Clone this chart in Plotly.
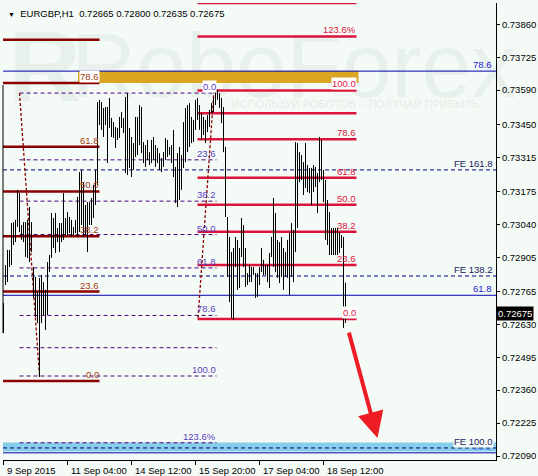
import plotly.graph_objects as go

# EURGBP H1, bar 0 = 9 Sep 2015 20:00 (highs / lows)
highs = [0.72717, 0.72873, 0.72935, 0.72935, 0.73045, 0.73049, 0.73058, 0.73181, 0.73168, 0.73037,
         0.73049, 0.73049, 0.73058, 0.73111, 0.73049, 0.72865, 0.72824, 0.72762, 0.72820, 0.72832,
         0.72803, 0.72771, 0.72885, 0.72914, 0.73086, 0.73066, 0.73086, 0.73025, 0.73045, 0.73045,
         0.73168, 0.73066, 0.73090, 0.73070, 0.73058, 0.73029, 0.73058, 0.73152, 0.73254, 0.73263,
         0.73213, 0.73119, 0.73131, 0.73131, 0.73148, 0.73201, 0.73263, 0.73541, 0.73550, 0.73541,
         0.73517, 0.73521, 0.73521, 0.73558, 0.73476, 0.73459, 0.73439, 0.73435, 0.73480, 0.73500,
         0.73476, 0.73562, 0.73578, 0.73435, 0.73398, 0.73373, 0.73480, 0.73480, 0.73529, 0.73521,
         0.73377, 0.73365, 0.73386, 0.73336, 0.73386, 0.73398, 0.73365, 0.73353, 0.73332, 0.73312,
         0.73336, 0.73394, 0.73386, 0.73357, 0.73365, 0.73427, 0.73275, 0.73332, 0.73357, 0.73324,
         0.73459, 0.73517, 0.73529, 0.73537, 0.73480, 0.73468, 0.73550, 0.73558, 0.73529, 0.73496,
         0.73480, 0.73468, 0.73488, 0.73509, 0.73537, 0.73558, 0.73582, 0.73591, 0.73578, 0.73558,
         0.73521, 0.73357, 0.73070, 0.72988, 0.72926, 0.72943, 0.72988, 0.72976, 0.72943, 0.73066,
         0.73037, 0.72943, 0.72840, 0.72873, 0.72865, 0.72865, 0.72840, 0.72840, 0.72865, 0.72943,
         0.72894, 0.72873, 0.72873, 0.72922, 0.72988, 0.73148, 0.73086, 0.72976, 0.72967, 0.72988,
         0.72943, 0.72926, 0.72976, 0.73004, 0.73045, 0.73017, 0.73377, 0.73373, 0.73336, 0.73324,
         0.73295, 0.73373, 0.73283, 0.73271, 0.73271, 0.73283, 0.73275, 0.73250, 0.73398, 0.73386,
         0.73263, 0.73222, 0.73140, 0.73090, 0.73025, 0.73025, 0.73025, 0.73025, 0.73008, 0.72996,
         0.72988, 0.72800]
lows = [0.72594, 0.72791, 0.72803, 0.72865, 0.72873, 0.72955, 0.72967, 0.73029, 0.73008, 0.72976,
        0.72967, 0.72906, 0.72902, 0.72885, 0.72926, 0.72738, 0.72660, 0.72635, 0.72414, 0.72635,
        0.72668, 0.72607, 0.72668, 0.72844, 0.72902, 0.72943, 0.72922, 0.72967, 0.72926, 0.72967,
        0.72976, 0.72996, 0.72996, 0.73004, 0.72988, 0.72996, 0.73004, 0.72988, 0.73008, 0.73037,
        0.72988, 0.72996, 0.72926, 0.73037, 0.73037, 0.73066, 0.73119, 0.73201, 0.73447, 0.73427,
        0.73398, 0.73447, 0.73291, 0.73435, 0.73398, 0.73394, 0.73353, 0.73386, 0.73394, 0.73435,
        0.73414, 0.73250, 0.73242, 0.73271, 0.73234, 0.73263, 0.73316, 0.73324, 0.73365, 0.73332,
        0.73291, 0.73275, 0.73304, 0.73283, 0.73291, 0.73304, 0.73275, 0.73291, 0.73263, 0.73254,
        0.73275, 0.73304, 0.73316, 0.73324, 0.73291, 0.73234, 0.73127, 0.73111, 0.73140, 0.73181,
        0.73271, 0.73295, 0.73336, 0.73357, 0.73373, 0.73377, 0.73427, 0.73468, 0.73427, 0.73386,
        0.73406, 0.73373, 0.73418, 0.73439, 0.73496, 0.73500, 0.73529, 0.73550, 0.73517, 0.73455,
        0.73336, 0.73070, 0.72824, 0.72721, 0.72656, 0.72648, 0.72865, 0.72771, 0.72779, 0.72906,
        0.72865, 0.72783, 0.72791, 0.72803, 0.72803, 0.72832, 0.72738, 0.72742, 0.72791, 0.72844,
        0.72832, 0.72832, 0.72803, 0.72779, 0.72906, 0.72865, 0.72844, 0.72820, 0.72799, 0.72824,
        0.72771, 0.72824, 0.72820, 0.72750, 0.72824, 0.72803, 0.72926, 0.73025, 0.73213, 0.73222,
        0.73160, 0.73189, 0.73172, 0.73168, 0.73119, 0.73172, 0.73193, 0.73086, 0.73213, 0.73222,
        0.73131, 0.72976, 0.72955, 0.72914, 0.72914, 0.72914, 0.72914, 0.72914, 0.72922, 0.72943,
        0.72615, 0.72635]

last_ohlc = [0.72665, 0.72800, 0.72635, 0.72675]

tick_bars = [0, 32, 64, 96, 128, 160]
tick_text = ["9 Sep 2015", "11 Sep 04:00", "14 Sep 12:00", "15 Sep 20:00", "17 Sep 04:00", "18 Sep 12:00"]
price_ticks = [0.73860, 0.73725, 0.73590, 0.73450, 0.73315, 0.73175, 0.73040,
               0.72905, 0.72765, 0.72630, 0.72495, 0.72360, 0.72225, 0.72090]

# fibonacci retracements
left_levels = [0, 23.6, 38.2, 50, 61.8, 78.6, 90, 100]
left_labels = ["0.0", "23.6", "38.2", "50.0", "61.8", "78.6", "", ""]
left_p0, left_p100, left_bars = 0.72397, 0.73952, (-2, 48)

mid_levels = [0, 23.6, 38.2, 50, 61.8, 78.6, 90, 100, 123.6]
mid_labels = ["0.0", "23.6", "38.2", "50.0", "61.8", "78.6", "", "100.0", "123.6%"]
mid_p0, mid_p100, mid_bars = 0.73578, 0.72418, (8, 106.5)

right_levels = [0, 23.6, 38.2, 50, 61.8, 78.6, 90, 100, 123.6, 138.2]
right_labels = ["0.0", "23.6", "38.2", "50.0", "61.8", "78.6", "", "100.0", "123.6%", ""]
right_p0, right_p100, right_bars = 0.72652, 0.73589, (97, 176.5)

# fibo expansion and other horizontal lines
fe_prices = [0.72123, 0.72828, 0.73263]
fe_labels = ["FE 100.0", "FE 138.2", "FE 161.8"]
blue_prices = [0.73668, 0.72749, 0.72103]
blue_labels = ["78.6", "61.8", "38.2"]
gold_zone = [0.73619, 0.73668]
gold_bars = (37.25, 177.5)
sky_zone = [0.72108, 0.72145]

diag1_bars, diag1_prices = [8, 18], [0.73578, 0.72418]
diag2_bars, diag2_prices = [105.25, 97.25], [0.73589, 0.72652]

arrow_from = (172.5, 0.72602)
arrow_to = (187, 0.72164)

X_RANGE = [-0.25, 246.25]
Y_RANGE = [0.720736, 0.739473]

BG = "#F4FBF6"
MAROON, MAROON_TXT = "#8B0000", "#A33A12"
RED = "#DC143C"
PURPLE, PURPLE_TXT = "#4B0082", "#5B3CC4"
NAVY = "#000080"
BLUE, BLUE_TXT = "#0000B0", "#1818D0"
FONT = "Liberation Sans"
WM = "rgba(150,168,160,0.12)"


def fib_prices(p0, p100, levels):
    return [p0 + (p100 - p0) * lv / 100.0 for lv in levels]


def hlines(prices, x0, x1):
    xs, ys = [], []
    for p in prices:
        xs += [x0, x1, None]
        ys += [p, p, None]
    return xs, ys


fig = go.Figure()

# watermark
fig.add_shape(type="rect", xref="paper", yref="paper", x0=0.19, x1=0.99, y0=0.80, y1=0.965,
              layer="below", line=dict(width=0), fillcolor="rgba(0,0,0,0)",
              label=dict(text="RoboForex", font=dict(family=FONT, size=90, color=WM)))
fig.add_shape(type="rect", xref="paper", yref="paper", x0=0.0, x1=0.17, y0=0.80, y1=0.965,
              layer="below", line=dict(width=0), fillcolor="rgba(0,0,0,0)",
              label=dict(text="<b>R</b>", font=dict(family=FONT, size=100, color=WM)))
fig.add_shape(type="rect", xref="paper", yref="paper", x0=0.44, x1=0.99, y0=0.768, y1=0.795,
              layer="below", line=dict(width=0), fillcolor="rgba(0,0,0,0)",
              label=dict(text="ИСПОЛЬЗУЙ РОБОТОВ – ПОЛУЧАЙ ПРИБЫЛЬ",
                         font=dict(family=FONT, size=11, color="rgba(150,168,160,0.2)")))

# zones
fig.add_shape(type="rect", xref="x", yref="y", x0=gold_bars[0], x1=gold_bars[1],
              y0=gold_zone[0], y1=gold_zone[1], layer="below", line=dict(width=0), fillcolor="#DAA520")
fig.add_shape(type="rect", xref="paper", yref="y", x0=0, x1=1,
              y0=sky_zone[0], y1=sky_zone[1], layer="below", line=dict(width=0), fillcolor="#87CEEB")

# left edge line
fig.add_shape(type="line", xref="paper", yref="y", x0=0, x1=0, y0=0.72594, y1=0.73611,
              line=dict(color="black", width=1))

# FE dashed lines
xs, ys = hlines(fe_prices, X_RANGE[0], X_RANGE[1])
fig.add_trace(go.Scatter(x=xs, y=ys, mode="lines", line=dict(color=NAVY, width=1, dash="4px,3px"),
                         hoverinfo="skip"))
# blue solid lines
xs, ys = hlines(blue_prices, X_RANGE[0], X_RANGE[1])
fig.add_trace(go.Scatter(x=xs, y=ys, mode="lines", line=dict(color=BLUE, width=1), hoverinfo="skip"))

# middle fib (dashed purple)
mid_p = fib_prices(mid_p0, mid_p100, mid_levels)
xs, ys = hlines(mid_p, *mid_bars)
fig.add_trace(go.Scatter(x=xs, y=ys, mode="lines", line=dict(color=PURPLE, width=1, dash="4px,3px"),
                         hoverinfo="skip"))
# left fib (maroon)
left_p = fib_prices(left_p0, left_p100, left_levels)
xs, ys = hlines(left_p, *left_bars)
fig.add_trace(go.Scatter(x=xs, y=ys, mode="lines", line=dict(color=MAROON, width=2.5), hoverinfo="skip"))
# right fib (crimson)
right_p = fib_prices(right_p0, right_p100, right_levels)
xs, ys = hlines(right_p, *right_bars)
fig.add_trace(go.Scatter(x=xs, y=ys, mode="lines", line=dict(color=RED, width=2.5), hoverinfo="skip"))

# fib trend lines
for bx, py in [(diag1_bars, diag1_prices), (diag2_bars, diag2_prices)]:
    fig.add_trace(go.Scatter(x=bx, y=py, mode="lines", line=dict(color=MAROON, width=1.3, dash="3px,2px"),
                             hoverinfo="skip"))

# bars
bx, by = [], []
for i, (h, l) in enumerate(zip(highs, lows)):
    bx += [i, i, None]
    by += [l, h, None]
fig.add_trace(go.Scatter(x=bx, y=by, mode="lines", line=dict(color="black", width=1), hoverinfo="skip"))

ann = []


def lab(x, y, text, color, xref="x", xanchor="right", bg=None, xshift=0, yshift=0):
    ann.append(dict(x=x, y=y, xref=xref, yref="y", text=text, showarrow=False, xanchor=xanchor,
                    yanchor="bottom", xshift=xshift, yshift=yshift, borderpad=0,
                    bgcolor=bg if bg else "rgba(0,0,0,0)",
                    font=dict(family=FONT, size=9.5, color=color)))


for p, t in zip(left_p, left_labels):
    if t:
        lab(left_bars[1], p, t, MAROON_TXT, bg="white" if t == "78.6" else None)
for p, t in zip(mid_p, mid_labels):
    if t:
        lab(mid_bars[1], p, t, PURPLE_TXT, bg="white" if t == "0.0" else None)
for p, t in zip(right_p, right_labels):
    if t:
        lab(right_bars[1], p, t, RED, bg="white" if t in ("100.0", "0.0") else None)
for p, t in zip(blue_prices, blue_labels):
    lab(1, p, t, BLUE_TXT if t != "38.2" else "rgba(40,40,210,0.45)", xref="paper", xshift=-3)
for p, t in zip(fe_prices, fe_labels):
    lab(1, p, t, "#1A1A60", xref="paper", xshift=-2, bg=BG if t == "FE 100.0" else None)

# x tick labels, MT4 style (left aligned at the tick)
for b, t in zip(tick_bars, tick_text):
    ann.append(dict(x=b, y=0, xref="x", yref="paper", text=t, showarrow=False, xanchor="left",
                    yanchor="top", yshift=-3, xshift=1, font=dict(family=FONT, size=9.5, color="black")))

# current price box
ann.append(dict(x=1, y=last_ohlc[3], xref="paper", yref="y", text=f"{last_ohlc[3]:.5f}", showarrow=False,
                xanchor="left", yanchor="middle", bgcolor="black", borderpad=1, xshift=0,
                font=dict(family=FONT, size=9.5, color="white")))

# title
title = "<span style='font-size:7px'>▼</span>  EURGBP,H1  " + " ".join(f"{v:.5f}" for v in last_ohlc)
ann.append(dict(x=0, y=1, xref="paper", yref="paper", text=title, showarrow=False, xanchor="left",
                yanchor="top", xshift=3, yshift=-3, font=dict(family=FONT, size=9.5, color="black")))

# forecast arrow
ann.append(dict(x=arrow_to[0], y=arrow_to[1], ax=arrow_from[0], ay=arrow_from[1], xref="x", yref="y",
                axref="x", ayref="y", showarrow=True, text="", arrowcolor="#EE1C25", arrowwidth=4,
                arrowhead=2, arrowsize=1.3, standoff=0))

fig.update_layout(
    width=538, height=476,
    margin=dict(l=3, r=42, t=3, b=16),
    plot_bgcolor=BG, paper_bgcolor=BG,
    showlegend=False,
    annotations=ann,
    xaxis=dict(range=X_RANGE, showgrid=False, zeroline=False, showline=True, linecolor="black",
               linewidth=1, ticks="outside", ticklen=4, tickcolor="black", tickvals=tick_bars,
               showticklabels=False, fixedrange=True),
    yaxis=dict(range=Y_RANGE, side="right", showgrid=False, zeroline=False, showline=True,
               linecolor="black", linewidth=1, ticks="outside", ticklen=3, tickcolor="black",
               tickvals=price_ticks, ticktext=[f"{v:.5f}" for v in price_ticks],
               tickfont=dict(family=FONT, size=9.5, color="black"), fixedrange=True),
)

# page body has a default 8px margin; drop it so the figure sits at the window corner
fig.write_html("out.html", config={"displayModeBar": False},
               post_script="document.body.style.margin='0';")
